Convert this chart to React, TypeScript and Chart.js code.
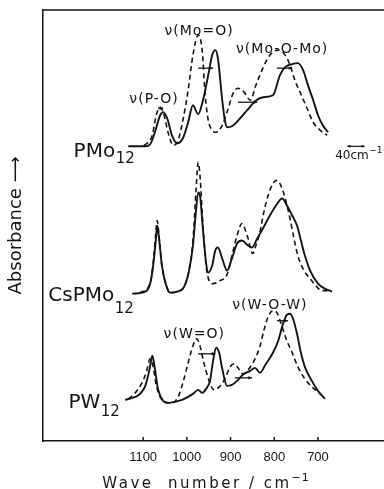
import React, { useEffect, useRef } from "react";
import { Chart, registerables } from "chart.js";

Chart.register(...registerables);

const INK = "#151515";
const SANS = "'DejaVu Sans', 'Noto Sans', sans-serif";

// ---- axes ----
const xTickValues = [1100, 1000, 900, 800, 700];
const xMin = 549;
const xMax = 1329;
const yMin = 0;
const yMax = 430;

// ---- spectra: wavenumber (cm^-1) and offset absorbance (arb. units) ----
const pmoSolidW = [1134, 1095, 1084, 1073, 1061, 1054, 1045, 1034, 1022, 1009, 997, 986, 974, 963, 951, 942, 935, 929, 919, 913, 908, 897, 878, 862, 844, 826, 803, 787, 775, 759, 746, 734, 723, 711, 700, 689, 677];
const pmoSolidA = [294, 294, 296, 308, 325, 328, 322, 305, 297, 302, 318, 335, 326, 340, 365, 385, 390, 382, 340, 320, 313, 314, 322, 330, 339, 343, 345, 365, 373, 376, 377, 370, 355, 340, 325, 315, 308];

const pmoDashW = [1098, 1091, 1079, 1070, 1061, 1052, 1043, 1031, 1020, 1009, 997, 986, 974, 965, 958, 951, 942, 933, 919, 908, 894, 883, 869, 855, 842, 826, 810, 791, 775, 764, 753, 741, 725, 711, 695, 679];
const pmoDashA = [295, 297, 305, 325, 333, 325, 308, 295, 300, 320, 350, 385, 405, 390, 345, 320, 310, 308, 315, 328, 347, 352, 348, 340, 355, 372, 385, 390, 385, 375, 360, 348, 332, 318, 310, 305];

const csSolidW = [1125, 1095, 1084, 1077, 1070, 1068, 1063, 1057, 1047, 1038, 1022, 1006, 995, 986, 979, 974, 970, 963, 956, 951, 942, 935, 929, 919, 908, 897, 885, 874, 860, 851, 839, 826, 810, 796, 782, 771, 759, 748, 739, 730, 718, 700, 684, 668];
const csSolidA = [147, 149, 157, 175, 205, 215, 200, 175, 155, 148, 149, 154, 170, 195, 230, 248, 245, 210, 178, 168, 175, 190, 193, 182, 170, 182, 197, 200, 195, 193, 202, 212, 225, 235, 242, 235, 225, 215, 200, 185, 170, 157, 152, 149];

const csDashW = [1107, 1084, 1077, 1070, 1068, 1063, 1057, 1047, 1038, 1022, 1006, 995, 986, 979, 974, 970, 963, 956, 949, 940, 924, 908, 894, 885, 874, 862, 849, 842, 833, 824, 814, 803, 794, 785, 775, 764, 755, 746, 732, 718, 705, 691, 673];
const csDashA = [148, 157, 178, 212, 220, 202, 175, 155, 148, 149, 154, 170, 200, 250, 278, 265, 215, 175, 160, 157, 160, 166, 190, 205, 217, 205, 187, 195, 208, 228, 245, 257, 260, 255, 242, 222, 202, 185, 170, 162, 155, 150, 150];

const pwSolidW = [1141, 1118, 1107, 1095, 1086, 1079, 1073, 1066, 1054, 1045, 1027, 1011, 997, 986, 974, 965, 956, 947, 940, 933, 926, 919, 908, 897, 885, 872, 855, 844, 833, 819, 803, 791, 780, 771, 764, 757, 748, 739, 730, 714, 700, 684];
const pwSolidA = [41, 44, 47, 55, 70, 85, 72, 52, 40, 38, 39, 41, 44, 47, 51, 48, 52, 60, 80, 93, 88, 72, 55, 56, 60, 66, 70, 73, 68, 77, 88, 100, 117, 126, 127, 122, 107, 88, 74, 60, 50, 42];

const pwDashW = [1134, 1118, 1105, 1093, 1084, 1077, 1070, 1061, 1050, 1034, 1020, 1009, 997, 986, 977, 970, 961, 949, 938, 926, 913, 901, 892, 883, 872, 858, 844, 833, 824, 814, 803, 794, 785, 773, 759, 746, 730, 714, 695];
const pwDashA = [42, 48, 56, 68, 82, 74, 56, 44, 39, 38, 44, 58, 78, 95, 102, 95, 78, 60, 51, 54, 62, 74, 77, 73, 67, 72, 82, 94, 110, 124, 130, 128, 118, 102, 88, 74, 62, 54, 47];

// ---- annotation texts (anchored in data coordinates) ----
const sampleNames = ["PMo", "CsPMo", "PW"];
const sampleSubs = ["12", "12", "12"];
const sampleAnchorW = [1164, 1166, 1198];
const sampleBaseA = [283, 140, 33];
const sampleSubBaseA = [277, 128, 25];

const bandLabels = ["ν(P-O)", "ν(Mo=O)", "ν(Mo-O-Mo)", "ν(W=O)", "ν(W-O-W)"];
const bandW = [1075, 972, 782, 983, 810];
const bandA = [337, 405, 387, 103, 132];

const shiftFromW = [1066, 974, 794, 883, 974, 794, 890];
const shiftToW = [1054, 940, 759, 839, 935, 769, 851];
const shiftA = [332, 372, 372, 338, 87, 120, 63];

const scaleBarW = [633, 593];
const scaleBarA = 294;
const scaleBarText = "40cm";
const scaleBarSup = "−1";
const scaleBarTextW = 607;
const scaleBarTextA = 281;

const xTitleMain = "Wave  number / cm";
const xTitleSup = "−1";
const xTitleCenterW = 956;
const yTitle = "Absorbance ⟶";

function toPts(w: number[], a: number[]) {
  return w.map((v, i) => ({ x: v, y: a[i] }));
}

function drawArrow(ctx: CanvasRenderingContext2D, x1: number, y1: number, x2: number, y2: number, head = 4) {
  ctx.beginPath();
  ctx.moveTo(x1, y1);
  ctx.lineTo(x2, y2);
  ctx.stroke();
  const ang = Math.atan2(y2 - y1, x2 - x1);
  ctx.beginPath();
  ctx.moveTo(x2, y2);
  ctx.lineTo(x2 - head * Math.cos(ang - 0.45), y2 - head * Math.sin(ang - 0.45));
  ctx.lineTo(x2 - head * Math.cos(ang + 0.45), y2 - head * Math.sin(ang + 0.45));
  ctx.closePath();
  ctx.fill();
}

const decorPlugin = {
  id: "decor",
  afterDraw(chart: any) {
    const { ctx, chartArea: ca, scales } = chart;
    const x = scales.x;
    const y = scales.y;
    ctx.save();
    ctx.strokeStyle = INK;
    ctx.fillStyle = INK;
    ctx.lineWidth = 1.5;
    // top frame line
    ctx.beginPath();
    ctx.moveTo(ca.left, ca.top);
    ctx.lineTo(ca.right, ca.top);
    ctx.stroke();
    // inward tick marks
    xTickValues.forEach((v) => {
      const px = x.getPixelForValue(v);
      ctx.beginPath();
      ctx.moveTo(px, ca.bottom);
      ctx.lineTo(px, ca.bottom - 4);
      ctx.stroke();
    });

    // sample labels with subscripts
    ctx.textBaseline = "alphabetic";
    sampleNames.forEach((name, i) => {
      const px = x.getPixelForValue(sampleAnchorW[i]);
      ctx.font = `20px ${SANS}`;
      ctx.textAlign = "right";
      ctx.fillText(name, px, y.getPixelForValue(sampleBaseA[i]));
      ctx.font = `15px ${SANS}`;
      ctx.textAlign = "left";
      ctx.fillText(sampleSubs[i], px + 0.5, y.getPixelForValue(sampleSubBaseA[i]));
    });

    // band assignments
    ctx.font = `14px ${SANS}`;
    (ctx as any).letterSpacing = "1px";
    ctx.textAlign = "center";
    bandLabels.forEach((t, i) => {
      ctx.fillText(t, x.getPixelForValue(bandW[i]), y.getPixelForValue(bandA[i]));
    });
    (ctx as any).letterSpacing = "0px";

    // shift arrows
    ctx.lineWidth = 1.3;
    shiftFromW.forEach((w, i) => {
      const py = y.getPixelForValue(shiftA[i]);
      drawArrow(ctx, x.getPixelForValue(w), py, x.getPixelForValue(shiftToW[i]), py, 4);
    });

    // 40 cm-1 scale bar
    const sy = y.getPixelForValue(scaleBarA);
    const s1 = x.getPixelForValue(scaleBarW[0]);
    const s2 = x.getPixelForValue(scaleBarW[1]);
    ctx.lineWidth = 1.2;
    drawArrow(ctx, (s1 + s2) / 2, sy, s1, sy, 3.5);
    drawArrow(ctx, (s1 + s2) / 2, sy, s2, sy, 3.5);
    ctx.textAlign = "left";
    const sbx = x.getPixelForValue(scaleBarTextW);
    const sby = y.getPixelForValue(scaleBarTextA);
    ctx.font = `12px ${SANS}`;
    const mw = ctx.measureText(scaleBarText).width;
    ctx.font = `9px ${SANS}`;
    const sw = ctx.measureText(scaleBarSup).width;
    const startX = sbx - (mw + sw) / 2;
    ctx.font = `12px ${SANS}`;
    ctx.fillText(scaleBarText, startX, sby);
    ctx.font = `9px ${SANS}`;
    ctx.fillText(scaleBarSup, startX + mw + 0.5, sby - 6);

    // x axis title
    ctx.font = `15px ${SANS}`;
    (ctx as any).letterSpacing = "2.5px";
    const tw = ctx.measureText(xTitleMain).width;
    ctx.font = `11px ${SANS}`;
    (ctx as any).letterSpacing = "1px";
    const tsw = ctx.measureText(xTitleSup).width;
    const cx = x.getPixelForValue(xTitleCenterW);
    const tx = cx - (tw + tsw) / 2;
    const ty = ca.bottom + 47;
    ctx.font = `15px ${SANS}`;
    (ctx as any).letterSpacing = "2.5px";
    ctx.fillText(xTitleMain, tx, ty);
    ctx.font = `11px ${SANS}`;
    (ctx as any).letterSpacing = "1px";
    ctx.fillText(xTitleSup, tx + tw, ty - 7);
    (ctx as any).letterSpacing = "0px";
    ctx.restore();
  },
};

export default function App() {
  const ref = useRef<HTMLCanvasElement>(null);
  useEffect(() => {
    if (!ref.current) return;
    const solid = { borderColor: INK, borderWidth: 1.9, pointRadius: 0, cubicInterpolationMode: "monotone" as const, fill: false };
    const dashed = { ...solid, borderWidth: 1.6, borderDash: [5, 3.5] };
    const chart = new Chart(ref.current, {
      type: "line",
      data: {
        datasets: [
          { label: "PMo12", data: toPts(pmoSolidW, pmoSolidA), ...solid },
          { label: "PMo12 (dashed)", data: toPts(pmoDashW, pmoDashA), ...dashed },
          { label: "CsPMo12", data: toPts(csSolidW, csSolidA), ...solid },
          { label: "CsPMo12 (dashed)", data: toPts(csDashW, csDashA), ...dashed },
          { label: "PW12", data: toPts(pwSolidW, pwSolidA), ...solid },
          { label: "PW12 (dashed)", data: toPts(pwDashW, pwDashA), ...dashed },
        ],
      },
      options: {
        animation: false,
        responsive: false,
        maintainAspectRatio: false,
        parsing: { xAxisKey: "x", yAxisKey: "y" },
        layout: { padding: { left: 4, right: 0, top: 10, bottom: 14.4 } },
        plugins: { legend: { display: false }, tooltip: { enabled: false } },
        scales: {
          x: {
            type: "linear",
            reverse: true,
            min: xMin,
            max: xMax,
            afterBuildTicks: (axis: any) => {
              axis.ticks = xTickValues.map((v) => ({ value: v }));
            },
            grid: { display: false, drawTicks: false },
            border: { display: true, color: INK, width: 1.5 },
            ticks: {
              autoSkip: false,
              maxRotation: 0,
              padding: 9,
              color: INK,
              font: { family: "'Liberation Sans', Arial, sans-serif", size: 13 },
              callback: (v: any) => String(v),
            },
          },
          y: {
            type: "linear",
            min: yMin,
            max: yMax,
            grid: { display: false, drawTicks: false },
            border: { display: true, color: INK, width: 1.5 },
            ticks: { display: false },
            title: {
              display: true,
              text: yTitle,
              color: INK,
              font: { family: SANS, size: 18 },
              padding: { top: 2, bottom: 15.4 },
            },
          },
        },
      },
      plugins: [decorPlugin],
    });
    return () => chart.destroy();
  }, []);
  return (
    <div style={{ position: "fixed", left: 0, top: 0, width: 384, height: 489, background: "#fff" }}>
      <canvas ref={ref} width={384} height={489} />
    </div>
  );
}
